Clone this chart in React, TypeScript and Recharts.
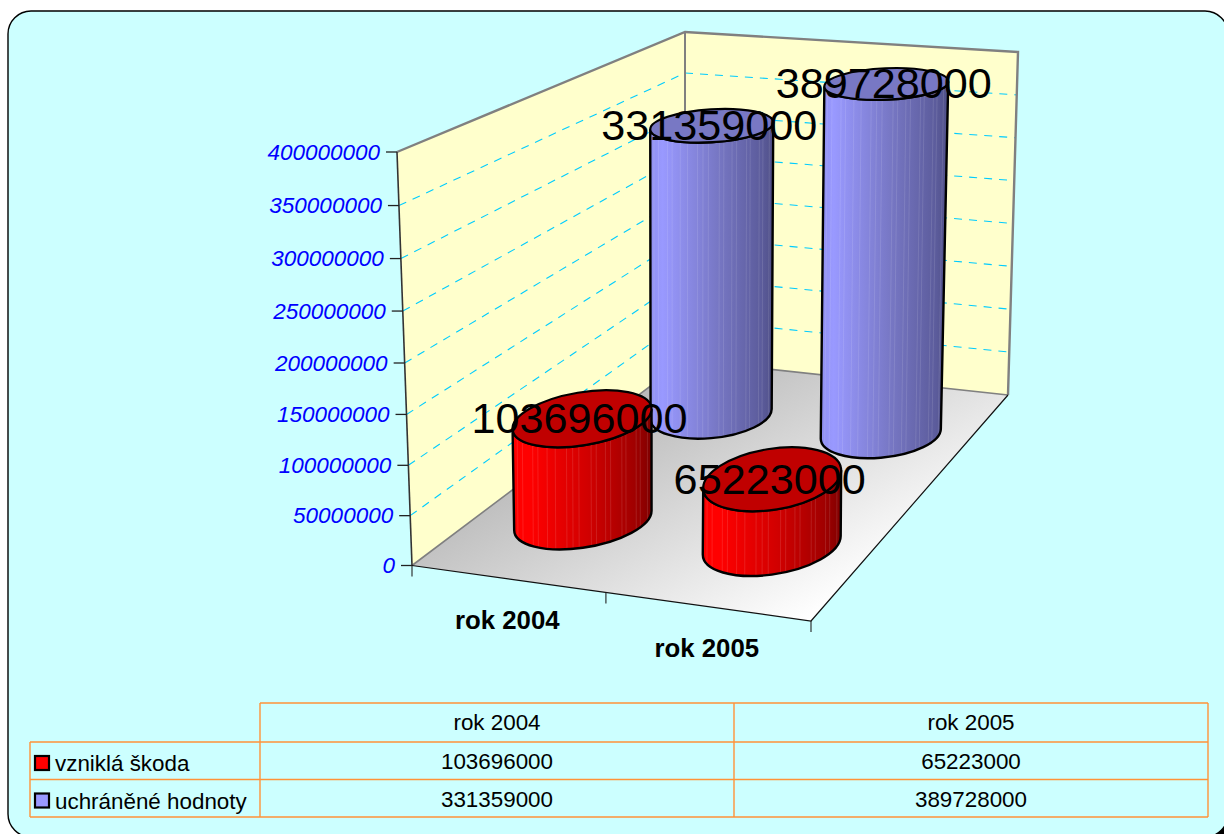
import React from "react";
import { BarChart, Bar, XAxis, YAxis, Customized, LabelList } from "recharts";

const categories = ["rok 2004", "rok 2005"];
const damage = [103696000, 65223000];
const saved = [331359000, 389728000];
const seriesNames = ["vzniklá škoda", "uchráněné hodnoty"];
const yTicks = [0, 50000000, 100000000, 150000000, 200000000, 250000000, 300000000, 350000000, 400000000];
const Y_MAX = 400000000;

const data = categories.map((name, i) => ({ name, damage: damage[i], saved: saved[i] }));

const W = 1224, H = 834;
const FONT = "'Liberation Sans', Arial, sans-serif";
const PLOT = { left: 412, right: 812, top: 152, bottom: 565.5 };

// 3D box corners of the Excel-like scene
const FL = [412, 565.5], FR = [811, 621], BR = [1008, 395], BL = [685, 360];
const TFL = [397, 152], TBL = [685, 32], TBR = [1018, 52];

const lerp = (a: number, b: number, t: number) => a + (b - a) * t;
const floorAt = (u: number, v: number) => {
  const fx = lerp(FL[0], FR[0], u), fy = lerp(FL[1], FR[1], u);
  const bx = lerp(BL[0], BR[0], u), by = lerp(BL[1], BR[1], u);
  return [lerp(fx, bx, v), lerp(fy, by, v)];
};
const SERIES_DEPTH = [0.28, 0.785];
// px on screen for the full axis range, per series and category
const FULL_HEIGHT = [[392, 405], [348, 359]];
const SHAPE_TOP = [
  [{ a: 70.3, b: 26.4, t: -9.5 }, { a: 69.7, b: 30.4, t: -9.2 }],
  [{ a: 61.6, b: 16.5, t: -3.5 }, { a: 62, b: 15.7, t: -2.5 }],
];
const SHAPE_BOTTOM = [
  [{ a: 69.5, b: 27, t: -9.5 }, { a: 69.7, b: 29, t: -9.2 }],
  [{ a: 60.8, b: 24, t: -5.7 }, { a: 60.3, b: 23.9, t: -5.7 }],
];
const TOP_FILL = ["#C00000", "#7878C4"];
const STREAKS = [4, 9, 19, 24, 33, 41, 52, 58, 64, 76, 81, 90, 95, 106, 110, 120, 124, 131];

const barGeom = (s: number, c: number, frac: number) => {
  const [bx, by] = floorAt((c + 0.5) / categories.length, SERIES_DEPTH[s]);
  const h = frac * FULL_HEIGHT[s][c];
  const lean = (bx - 685) * 0.8e-4 * h;
  return { bx, by, tx: bx + lean, ty: by - h };
};

const extreme = (e: { a: number; b: number; t: number }) => {
  const r = (e.t * Math.PI) / 180;
  const hw = Math.sqrt(e.a ** 2 * Math.cos(r) ** 2 + e.b ** 2 * Math.sin(r) ** 2);
  const dy = ((e.a ** 2 - e.b ** 2) * Math.sin(r) * Math.cos(r)) / hw;
  return { hw, dy };
};

const cylinder = (s: number) => (props: any) => {
  const { index, height } = props;
  const c = index as number;
  const frac = height / (PLOT.bottom - PLOT.top);
  const { bx, by, tx, ty } = barGeom(s, c, frac);
  const top = SHAPE_TOP[s][c], bot = SHAPE_BOTTOM[s][c];
  const et = extreme(top), eb = extreme(bot);
  const body =
    `M${tx - et.hw},${ty - et.dy} L${bx - eb.hw},${by - eb.dy} ` +
    `A${bot.a},${bot.b} ${bot.t} 0 0 ${bx + eb.hw},${by + eb.dy} ` +
    `L${tx + et.hw},${ty + et.dy} ` +
    `A${top.a},${top.b} ${top.t} 0 1 ${tx - et.hw},${ty - et.dy} Z`;
  const id = `cyl-${s}-${c}`;
  return (
    <g>
      <clipPath id={id}><path d={body} /></clipPath>
      <path d={body} fill={`url(#grad-${s})`} />
      <g clipPath={`url(#${id})`}>
        {STREAKS.map((o, i) => (
          <line key={i} x1={tx - et.hw + o * (2 * et.hw) / 135} y1={ty - 60} x2={bx - eb.hw + o * (2 * eb.hw) / 135} y2={by + 60}
            stroke="#ffffff" strokeOpacity={0.13} strokeWidth={0.9} />
        ))}
      </g>
      <path d={body} fill="none" stroke="#000" strokeWidth={2.4} />
      <ellipse cx={tx} cy={ty} rx={top.a} ry={top.b} transform={`rotate(${top.t} ${tx} ${ty})`}
        fill={TOP_FILL[s]} stroke="#000" strokeWidth={2.2} />
    </g>
  );
};

const barLabel = (s: number) => (props: any) => {
  const c = props.index as number;
  const v = Number(props.value);
  const { tx, ty } = barGeom(s, c, v / Y_MAX);
  return (
    <text x={tx - 2.5} y={ty + 14.5} textAnchor="middle" fontFamily={FONT} fontSize={43.2} fill="#000">{v}</text>
  );
};

const warp = (y: number) => {
  const t = (PLOT.bottom - y) / (PLOT.bottom - PLOT.top);
  return y + 17 * t * (1 - t);
};
const edgeX = (y: number) => lerp(TFL[0], FL[0], (y - TFL[1]) / (FL[1] - TFL[1]));

const YTick = (props: any) => {
  const y = warp(props.y);
  const x = edgeX(y);
  return (
    <g>
      <line x1={x - 11} y1={y} x2={x} y2={y} stroke="#222" strokeWidth={1.3} />
      <text x={x - 17} y={y + 7.8} textAnchor="end" fontFamily={FONT} fontStyle="italic" fontSize={22.5} fill="#0000FF">
        {props.payload.value}
      </text>
    </g>
  );
};

const XTick = (props: any) => {
  const [fx, fy] = floorAt((props.index + 0.5) / categories.length, 0);
  return (
    <text x={fx - 4.5} y={fy + 49.5} textAnchor="middle" fontFamily={FONT} fontWeight="bold" fontSize={25.8} fill="#000">
      {props.payload.value}
    </text>
  );
};

const pts = (a: number[][]) => a.map((p) => p.join(",")).join(" ");

const Scene = () => {
  const grid = yTicks.filter((t) => t > 0 && t < Y_MAX);
  return (
    <g>
      <defs>
        <linearGradient id="grad-0" x1="0" x2="1" y1="0" y2="0">
          <stop offset="0" stopColor="#FF0000" />
          <stop offset="0.12" stopColor="#FF0000" />
          <stop offset="0.55" stopColor="#D00000" />
          <stop offset="0.88" stopColor="#A00000" />
          <stop offset="1" stopColor="#800000" />
        </linearGradient>
        <linearGradient id="grad-1" x1="0" x2="1" y1="0" y2="0">
          <stop offset="0" stopColor="#9090F0" />
          <stop offset="0.1" stopColor="#9999FF" />
          <stop offset="0.55" stopColor="#7777C4" />
          <stop offset="0.9" stopColor="#5C5C9C" />
          <stop offset="1" stopColor="#505088" />
        </linearGradient>
        <linearGradient id="floor" gradientUnits="userSpaceOnUse" x1="620" y1="370" x2="770" y2="640">
          <stop offset="0" stopColor="#B2B2B2" />
          <stop offset="1" stopColor="#FFFFFF" />
        </linearGradient>
      </defs>
      <polygon points={pts([TFL, TBL, BL, FL])} fill="#FFFFCC" />
      <polygon points={pts([TBL, TBR, BR, BL])} fill="#FFFFCC" />
      <polygon points={pts([FL, BL, BR, FR])} fill="url(#floor)" />
      {grid.map((t) => {
        const f = t / Y_MAX;
        const ly = warp(lerp(PLOT.bottom, PLOT.top, f));
        const lx = edgeX(ly);
        const my = lerp(BL[1], TBL[1], f);
        const rx = lerp(BR[0], TBR[0], f), ry = lerp(BR[1], TBR[1], f);
        return (
          <g key={t} stroke="#00CCFF" strokeWidth={1.1} strokeDasharray="8 7" fill="none">
            <line x1={lx} y1={ly} x2={BL[0]} y2={my} />
            <line x1={BL[0]} y1={my} x2={rx} y2={ry} />
          </g>
        );
      })}
      <polyline points={pts([TFL, TBL, TBR, BR])} fill="none" stroke="#808080" strokeWidth={2.4} />
      <line x1={TBL[0]} y1={TBL[1]} x2={BL[0]} y2={BL[1]} stroke="#808080" strokeWidth={2} />
      <polyline points={pts([FL, BL, BR])} fill="none" stroke="#808080" strokeWidth={1.6} />
      <line x1={TFL[0]} y1={TFL[1]} x2={FL[0]} y2={FL[1]} stroke="#333" strokeWidth={1.6} />
      <polyline points={pts([FL, FR, BR])} fill="none" stroke="#111" strokeWidth={1.2} />
      {[0, 0.486, 1].map((u) => {
        const p = floorAt(u, 0);
        return <line key={u} x1={p[0]} y1={p[1]} x2={p[0]} y2={p[1] + 11} stroke="#222" strokeWidth={1.1} />;
      })}
    </g>
  );
};

const rowY = [703, 742, 779.5, 817];
const colX = [30, 260, 734, 1208];
const rows = [damage, saved];
const swatch = ["#FF0000", "#9999FF"];

const DataTable = () => {
  const line = { stroke: "#FF9238", strokeWidth: 1.4 };
  const text = { fontFamily: FONT, fontSize: 22.4, fill: "#000" };
  return (
    <g>
      <line x1={colX[1]} y1={rowY[0]} x2={colX[3]} y2={rowY[0]} {...line} />
      <line x1={colX[0]} y1={rowY[1]} x2={colX[3]} y2={rowY[1]} {...line} />
      <line x1={colX[0]} y1={rowY[2]} x2={colX[3]} y2={rowY[2]} {...line} />
      <line x1={colX[0]} y1={rowY[3]} x2={colX[3]} y2={rowY[3]} {...line} />
      <line x1={colX[0]} y1={rowY[1]} x2={colX[0]} y2={rowY[3]} {...line} />
      <line x1={colX[1]} y1={rowY[0]} x2={colX[1]} y2={rowY[3]} {...line} />
      <line x1={colX[2]} y1={rowY[0]} x2={colX[2]} y2={rowY[3]} {...line} />
      <line x1={colX[3]} y1={rowY[0]} x2={colX[3]} y2={rowY[3]} {...line} />
      {categories.map((c, i) => (
        <text key={c} x={(colX[i + 1] + colX[i + 2]) / 2} y={rowY[0] + 27} textAnchor="middle" {...text}>{c}</text>
      ))}
      {seriesNames.map((n, r) => (
        <g key={n}>
          <rect x={35} y={rowY[r + 1] + 14} width={14} height={14} fill={swatch[r]} stroke="#000" strokeWidth={2.2} />
          <text x={55} y={rowY[r + 1] + 29} {...text}>{n}</text>
          {rows[r].map((v, i) => (
            <text key={i} x={(colX[i + 1] + colX[i + 2]) / 2} y={rowY[r + 1] + 27} textAnchor="middle" {...text}>{v}</text>
          ))}
        </g>
      ))}
    </g>
  );
};

const Frame = () => (
  <g>
    <rect x={13} y={16} width={1220} height={826} rx={23} ry={23} fill="#000" />
    <rect x={8} y={11} width={1220} height={826} rx={23} ry={23} fill="#CCFFFF" stroke="#000" strokeWidth={1.4} />
  </g>
);

export default function App() {
  return (
    <div style={{ position: "absolute", left: 0, top: 0, width: W, height: H, overflow: "hidden", background: "#fff" }}>
      <BarChart
        width={W}
        height={H}
        data={data}
        margin={{ top: PLOT.top, right: W - PLOT.right, bottom: H - PLOT.bottom - 60, left: PLOT.left - 60 }}
      >
        <Customized component={Frame} />
        <Customized component={Scene} />
        <XAxis dataKey="name" height={60} axisLine={false} tickLine={false} tick={XTick} interval={0} />
        <YAxis width={60} domain={[0, Y_MAX]} ticks={yTicks} interval={0} axisLine={false} tickLine={false} tick={YTick} />
        <Bar dataKey="saved" isAnimationActive={false} shape={cylinder(1)}>
          <LabelList dataKey="saved" content={barLabel(1)} />
        </Bar>
        <Bar dataKey="damage" isAnimationActive={false} shape={cylinder(0)}>
          <LabelList dataKey="damage" content={barLabel(0)} />
        </Bar>
        <Customized component={DataTable} />
      </BarChart>
    </div>
  );
}
